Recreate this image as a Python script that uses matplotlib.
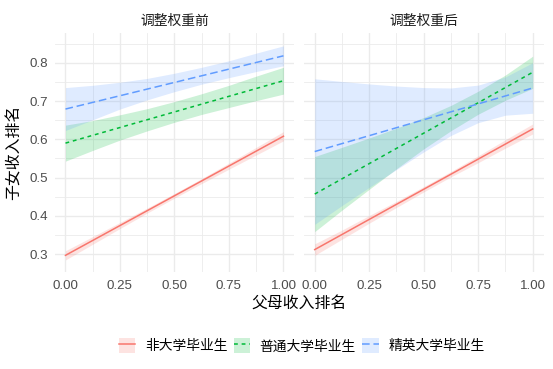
import matplotlib
matplotlib.use("Agg")
import matplotlib.pyplot as plt
from matplotlib.lines import Line2D
from matplotlib.patches import Patch

plt.rcParams['font.family'] = ['Liberation Sans', 'Noto Sans CJK SC', 'DejaVu Sans']

# Data
panels = ["调整权重前", "调整权重后"]
groups = ["非大学毕业生", "普通大学毕业生", "精英大学毕业生"]
x_fit = [0.0, 1.0]
x_band = [0.0, 0.125, 0.25, 0.375, 0.5, 0.625, 0.75, 0.875, 1.0]

# fitted line end points, per group
fit_before = [[0.297, 0.608], [0.590, 0.753], [0.679, 0.818]]
fit_after = [[0.312, 0.627], [0.457, 0.775], [0.568, 0.734]]

# confidence band lower / upper, per group, at x_band
lo_before = [[0.285, 0.326, 0.367, 0.4075, 0.4465, 0.4845, 0.522, 0.559, 0.596],
             [0.543, 0.571, 0.598, 0.622, 0.6445, 0.665, 0.683, 0.701, 0.718],
             [0.623, 0.651, 0.679, 0.703, 0.7245, 0.744, 0.761, 0.777, 0.792]]
hi_before = [[0.309, 0.346, 0.383, 0.4205, 0.4585, 0.4975, 0.538, 0.579, 0.620],
             [0.637, 0.649, 0.664, 0.680, 0.6985, 0.719, 0.741, 0.765, 0.788],
             [0.735, 0.741, 0.749, 0.759, 0.7725, 0.788, 0.805, 0.825, 0.844]]
lo_after = [[0.297, 0.339, 0.381, 0.422, 0.4625, 0.502, 0.539, 0.577, 0.614],
            [0.359, 0.415, 0.4695, 0.523, 0.575, 0.6225, 0.6655, 0.702, 0.733],
            [0.378, 0.427, 0.4745, 0.521, 0.567, 0.610, 0.6435, 0.663, 0.668]]
hi_after = [[0.327, 0.363, 0.401, 0.438, 0.4765, 0.516, 0.557, 0.599, 0.640],
            [0.555, 0.579, 0.6035, 0.629, 0.657, 0.6885, 0.7255, 0.768, 0.817],
            [0.758, 0.751, 0.7445, 0.739, 0.735, 0.734, 0.7415, 0.763, 0.800]]

# ggplot default hues
colors = ["#F8766D", "#00BA38", "#619CFF"]
dashes = [None, (2.5, 2.5), (5, 2.5)]

fig = plt.figure(figsize=(5.53, 3.69), dpi=100)
ax1 = fig.add_axes([0.0987, 0.2629, 0.4336, 0.6477])
ax2 = fig.add_axes([0.5494, 0.2629, 0.4336, 0.6477])

panel_data = [(ax1, fit_before, lo_before, hi_before),
              (ax2, fit_after, lo_after, hi_after)]

for i, (ax, fits, los, his) in enumerate(panel_data):
    for g in range(len(groups)):
        ax.fill_between(x_band, los[g], his[g], color=colors[g], alpha=0.2,
                        linewidth=0, zorder=2)
        line, = ax.plot(x_fit, fits[g], color=colors[g], linewidth=1.1, zorder=3)
        if dashes[g] is not None:
            line.set_dashes(dashes[g])

    ax.set_xlim(-0.05, 1.05)
    ax.set_ylim(0.2535, 0.8776)
    ax.set_xticks([0, 0.25, 0.5, 0.75, 1.0])
    ax.set_xticks([0.125, 0.375, 0.625, 0.875], minor=True)
    ax.set_yticks([0.3, 0.4, 0.5, 0.6, 0.7, 0.8])
    ax.set_yticks([0.35, 0.45, 0.55, 0.65, 0.75, 0.85], minor=True)
    ax.set_xticklabels(["0.00", "0.25", "0.50", "0.75", "1.00"])
    ax.grid(which="major", color="#EBEBEB", linewidth=1.0, zorder=0)
    ax.grid(which="minor", color="#EBEBEB", linewidth=0.6, zorder=0)
    ax.set_axisbelow(True)
    for s in ax.spines.values():
        s.set_visible(False)
    ax.tick_params(which="both", length=0, labelsize=9.6, labelcolor="#4D4D4D")
    ax.tick_params(axis="x", pad=6)
    ax.tick_params(axis="y", pad=5)
    ax.set_title(panels[i], fontsize=9.9, color="#1A1A1A", pad=6)

ax2.set_yticklabels([])

fig.text(0.5415, 0.177, "父母收入排名", ha="center", va="center", fontsize=11.4)
fig.text(0.025, 0.587, "子女收入排名", ha="center", va="center",
         rotation=90, fontsize=11.4)

handles = []
for g in range(len(groups)):
    patch = Patch(facecolor=colors[g], alpha=0.2, linewidth=0)
    ln = Line2D([0], [0], color=colors[g], linewidth=1.1)
    if dashes[g] is not None:
        ln.set_dashes(dashes[g])
    handles.append((patch, ln))

fig.legend(handles, groups, loc="center", bbox_to_anchor=(0.5455, 0.063),
           ncol=3, frameon=False, fontsize=9.9, handlelength=1.2,
           handleheight=1.3, handletextpad=0.7, columnspacing=0.45)

plt.savefig("out.png", dpi=100)
